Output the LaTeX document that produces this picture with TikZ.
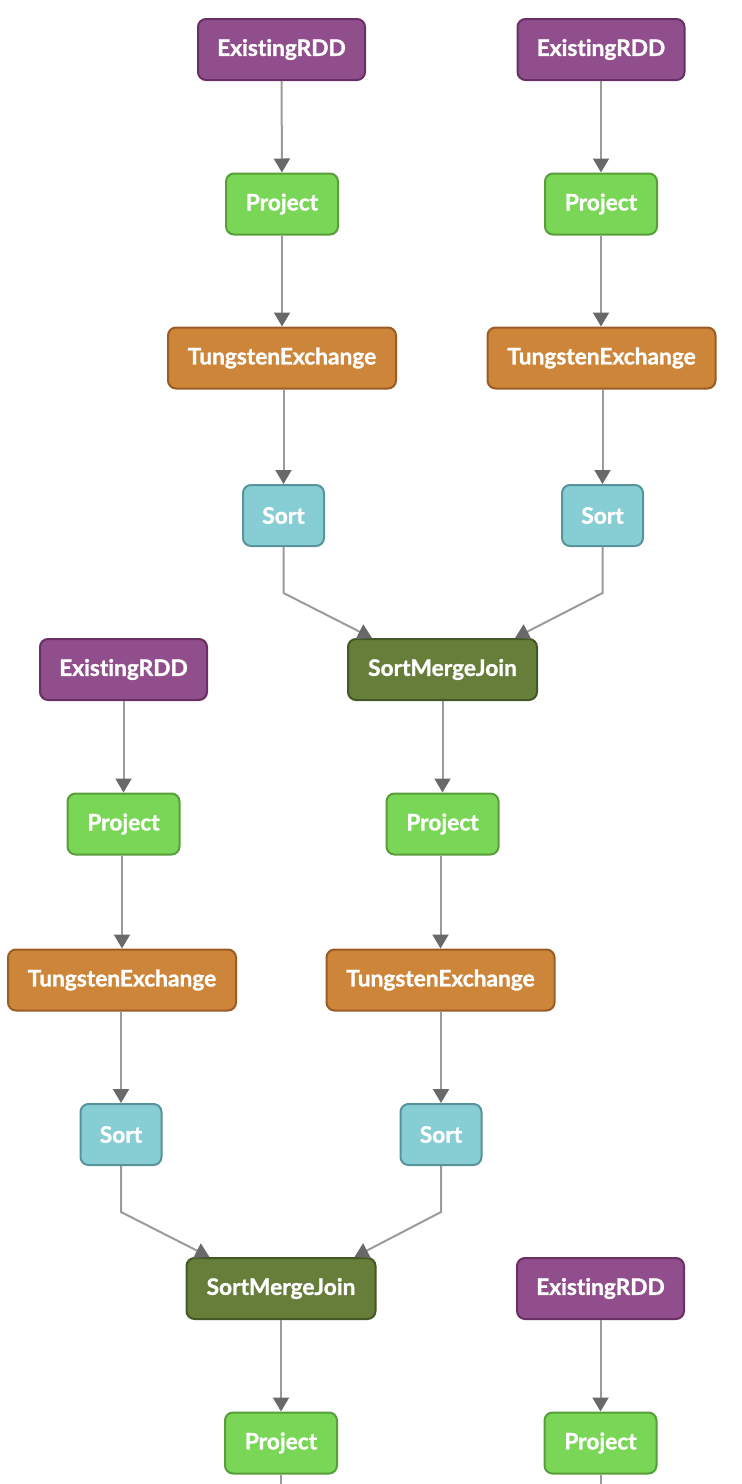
\documentclass[tikz,border=0pt]{standalone}
\usepackage{fontspec}
\setmainfont{Lato}[Ligatures=NoCommon]
\newfontfamily\nodefont{Lato}[Ligatures=NoCommon,UprightFont=*,BoldFeatures={FakeBold=1.2}]
\usetikzlibrary{arrows.meta,calc}
\definecolor{rddfill}{RGB}{145,78,140}
\definecolor{rddline}{RGB}{105,48,100}
\definecolor{projfill}{RGB}{122,214,86}
\definecolor{projline}{RGB}{88,158,58}
\definecolor{exfill}{RGB}{205,133,58}
\definecolor{exline}{RGB}{155,92,35}
\definecolor{sortfill}{RGB}{135,205,212}
\definecolor{sortline}{RGB}{88,148,155}
\definecolor{smjfill}{RGB}{102,126,58}
\definecolor{smjline}{RGB}{68,88,38}
\definecolor{edgegray}{RGB}{155,155,155}
\definecolor{tipgray}{RGB}{105,105,105}
\begin{document}
\begin{tikzpicture}[x=1pt,y=-1pt,
  box/.style={rounded corners=8pt,line width=2pt,inner sep=0pt,minimum height=61pt,
    text=white,font=\nodefont\fontsize{22.7}{26}\selectfont\bfseries},
  rdd/.style={box,fill=rddfill,draw=rddline,minimum width=167pt},
  proj/.style={box,fill=projfill,draw=projline,minimum width=112pt},
  exch/.style={box,fill=exfill,draw=exline,minimum width=228pt},
  srt/.style={box,fill=sortfill,draw=sortline,minimum width=81pt},
  smj/.style={box,fill=smjfill,draw=smjline,minimum width=189pt},
  edge/.style={draw=edgegray,line width=2pt,-{Triangle[width=16pt,length=14pt,color=tipgray]}},
  plain/.style={draw=edgegray,line width=2pt}]
\useasboundingbox (0,0) rectangle (742,1484);
% first column pair
\node[rdd]  (r1) at (281.5,49.5) {ExistingRDD};
\node[rdd]  (r2) at (601,49.5) {ExistingRDD};
\node[proj] (p1) at (282,204) {Project};
\node[proj] (p2) at (601,204) {Project};
\node[exch] (e1) at (282,358) {TungstenExchange};
\node[exch] (e2) at (601.5,358) {TungstenExchange};
\node[srt]  (s1) at (283.5,515.5) {Sort};
\node[srt]  (s2) at (602.5,515.5) {Sort};
\node[smj]  (j1) at (442.5,669.5) {SortMergeJoin};
% second level
\node[rdd]  (r3) at (123.5,669.5) {ExistingRDD};
\node[proj] (p3) at (123.5,824) {Project};
\node[proj] (p4) at (442.5,824) {Project};
\node[exch] (e3) at (122,980) {TungstenExchange};
\node[exch] (e4) at (440.5,980) {TungstenExchange};
\node[srt]  (s3) at (121,1134.5) {Sort};
\node[srt]  (s4) at (441,1134.5) {Sort};
\node[smj]  (j2) at (281,1288.5) {SortMergeJoin};
\node[rdd]  (r4) at (600.5,1288.5) {ExistingRDD};
\node[proj] (p5) at (281,1443) {Project};
\node[proj] (p6) at (600.5,1443) {Project};
\coordinate (k1) at (0,593);
\coordinate (k2) at (0,1212);
\coordinate (b5) at (281,1484);
\coordinate (b6) at (600.5,1484);
% edges
\draw[edge] (r1) -- (p1);
\draw[edge] (r2) -- (p2);
\draw[edge] (p1) -- (e1.north -| p1);
\draw[edge] (p2) -- (e2.north -| p2);
\draw[edge] (e1.south -| s1) -- (s1);
\draw[edge] (e2.south -| s2) -- (s2);
\draw[edge] (s1.south) -- (s1.south |- k1) -- ($(j1.north west)+(25,0)$);
\draw[edge] (s2.south) -- (s2.south |- k1) -- ($(j1.north east)+(-23,0)$);
\draw[edge] (r3) -- (p3);
\draw[edge] (j1) -- (p4);
\draw[edge] (p3.south -| e3) -- (e3);
\draw[edge] (p4.south -| e4) -- (e4);
\draw[edge] (e3.south -| s3) -- (s3);
\draw[edge] (e4.south -| s4) -- (s4);
\draw[edge] (s3.south) -- (s3.south |- k2) -- ($(j2.north west)+(24,0)$);
\draw[edge] (s4.south) -- (s4.south |- k2) -- ($(j2.north east)+(-22,0)$);
\draw[edge] (j2) -- (p5);
\draw[edge] (r4) -- (p6);
\draw[plain] (p5.south) -- (b5);
\draw[plain] (p6.south) -- (b6);
\end{tikzpicture}
\end{document}
